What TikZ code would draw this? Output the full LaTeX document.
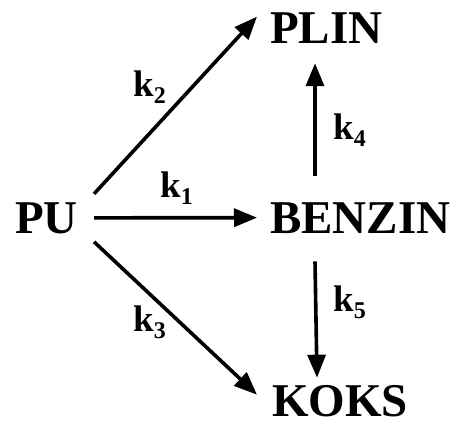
\documentclass[tikz,border=0pt]{standalone}
\usepackage{fontspec}
\setmainfont{Liberation Serif}
\usetikzlibrary{arrows.meta,calc}
\begin{document}
\begin{tikzpicture}[x=1pt,y=-1pt,
  big/.style={inner sep=0pt,anchor=base west,font=\fontsize{47}{50}\selectfont\bfseries},
  klab/.style={inner sep=0pt,anchor=base west,font=\fontsize{37}{40}\selectfont\bfseries},
  arr/.style={line width=3.6pt,-{Triangle[length=23pt,width=18pt]}}]
\useasboundingbox (0,0) rectangle (459,424);
\newcommand{\ksub}[1]{k\raisebox{-7pt}{\fontsize{24}{26}\selectfont #1}}
\node[big] (PU) at (15,233) {PU};
\node[big] (BEN) at (270,233) {BENZIN};
\node[big] (PLIN) at (270,43) {PLIN};
\node[big] (KOKS) at (272,416) {KOKS};
\node[klab] (k2) at (133,96) {\ksub{2}};
\node[klab] (k1) at (160,197) {\ksub{1}};
\node[klab] (k3) at (133,331) {\ksub{3}};
\node[klab] (k4) at (333,139) {\ksub{4}};
\node[klab] (k5) at (333,311) {\ksub{5}};
\draw[arr] ($(PU.east)+(16,-24)$) -- ($(PLIN.west)+(-13,-11)$);
\draw[arr] ($(PU.east)+(16,0)$) -- ($(BEN.west)+(-13,0)$);
\draw[arr] ($(PU.east)+(16,24)$) -- ($(KOKS.west)+(-15,-6)$);
\draw[arr] ($(BEN.north west)+(45,-26)$) -- ($(PLIN.south west)+(45,20)$);
\draw[arr] ($(BEN.south west)+(45,28)$) -- ($(KOKS.north west)+(45,-7)$);
\end{tikzpicture}
\end{document}
